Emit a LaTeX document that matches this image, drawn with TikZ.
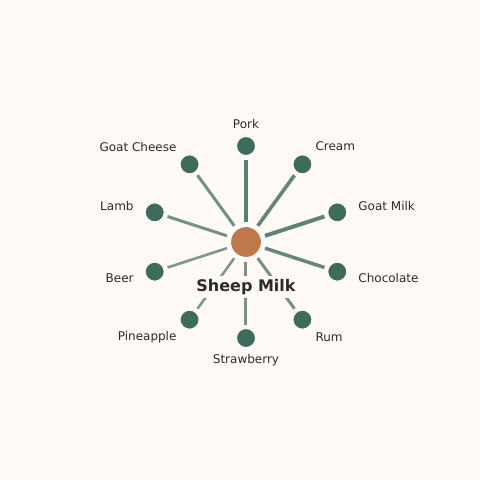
\documentclass[tikz,border=0pt]{standalone}
\usepackage{fontspec}
\setmainfont{DejaVu Sans}
\definecolor{paper}{HTML}{FFFAF6}
\definecolor{leafgreen}{HTML}{3D6B5C}
\definecolor{spokegreen}{HTML}{4F7A69}
\definecolor{hubbrown}{HTML}{C0784A}
\definecolor{ink}{HTML}{2B2B2B}
\begin{document}
\begin{tikzpicture}[x=1pt, y=1pt,
      hub/.style={circle, fill=hubbrown, draw=white, line width=2pt, minimum size=32pt, inner sep=0pt},
      leaf/.style={circle, fill=leafgreen, draw=paper, line width=1pt, minimum size=19pt, inner sep=0pt},
      spoke/.style={draw=spokegreen, shorten <=3pt, shorten >=3.5pt},
      tag/.style={text=ink, font=\fontsize{12}{14}\selectfont, inner sep=0pt}
    ]
      \fill[paper] (-246,-238) rectangle (234,242);
      \useasboundingbox (-246,-238) rectangle (234,242);
      \node[hub] (milk) at (0,0) {};
      \foreach \i/\a/\name/\w/\o/\anc in {
          1/90/Pork/4.5/0.95/center, 2/54/Cream/3.6/0.9/west, 3/18/Goat Milk/4/0.92/west,
          4/-18/Chocolate/3.5/0.88/west, 5/-54/Rum/3/0.8/west, 6/-90/Strawberry/3/0.8/center,
          7/-126/Pineapple/2.6/0.75/east, 8/-162/Beer/2.6/0.75/east, 9/162/Lamb/3/0.8/east,
          10/126/Goat Cheese/3/0.82/east}{
        \node[leaf] (n\i) at (\a:96pt) {};
        \node[tag, anchor=\anc] (t\i) at (\a:118pt) {\name};
        \draw[spoke, line width=\w pt, draw opacity=\o] (milk) -- (n\i);
      }
      \node[tag, font=\fontsize{16}{18}\selectfont\bfseries, fill=paper, inner sep=3pt] (title) at (0,-45) {Sheep Milk};
    \end{tikzpicture}
\end{document}
